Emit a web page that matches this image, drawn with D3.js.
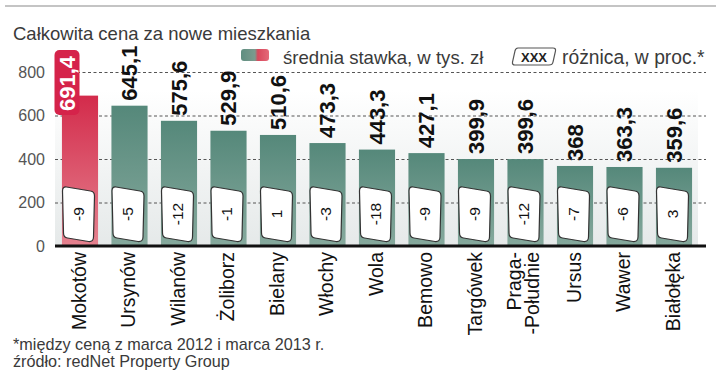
<!DOCTYPE html>
<html>
<head>
<meta charset="utf-8">
<script src="https://cdn.jsdelivr.net/npm/d3@7"></script>
<style>
  body { margin: 0; background: #fff; }
  svg { display: block; font-family: "Liberation Sans", Arial, sans-serif; }
</style>
</head>
<body>
<svg id="chart" width="720" height="375"></svg>
<script>
// dzielnice, srednia stawka (tys. zl), roznica (proc.)
var districts = ["Mokotów", "Ursynów", "Wilanów", "Żoliborz", "Bielany", "Włochy", "Wola",
  "Bemowo", "Targówek", "Praga-\n-Południe", "Ursus", "Wawer", "Białołęka"];
var prices = [691.4, 645.1, 575.6, 529.9, 510.6, 473.3, 443.3, 427.1, 399.9, 399.6, 368, 363.3, 359.6];
var changes = [-9, -5, -12, -1, 1, -3, -18, -9, -9, -12, -7, -6, 3];
var yTicks = [0, 200, 400, 600, 800];

var data = districts.map(function(d, i) {
  return {name: d, price: prices[i], change: changes[i]};
});

var fmt = function(v) { return String(v).replace(".", ","); };

var svg = d3.select("#chart");

var x = d3.scaleBand()
  .domain(districts)
  .range([55.25, 698.75])
  .paddingInner(0.27)
  .paddingOuter(0.135);

var y = d3.scaleLinear()
  .domain([0, 800])
  .range([246, 72]);

var defs = svg.append("defs");
function grad(id, c1, c2) {
  var g = defs.append("linearGradient").attr("id", id)
    .attr("x1", 0).attr("y1", 0).attr("x2", 0).attr("y2", 1);
  g.append("stop").attr("offset", "0%").attr("stop-color", c1);
  g.append("stop").attr("offset", "100%").attr("stop-color", c2);
}
grad("gGreen", "#55887a", "#86a99d");
grad("gRed", "#d32b4b", "#e5828f");
grad("gPanel", "#ffffff", "#e5e9e9");
var lg = defs.append("linearGradient").attr("id", "gLegend");
lg.append("stop").attr("offset", "0%").attr("stop-color", "#5f8e80");
lg.append("stop").attr("offset", "50%").attr("stop-color", "#7b9b8e");
lg.append("stop").attr("offset", "60%").attr("stop-color", "#d8485c");
lg.append("stop").attr("offset", "100%").attr("stop-color", "#e46a79");

// top rule
svg.append("line")
  .attr("x1", 5).attr("x2", 716).attr("y1", 6).attr("y2", 6)
  .attr("stroke", "#c4c4c4").attr("stroke-width", 2);

// title
svg.append("text")
  .attr("x", 13).attr("y", 40)
  .attr("font-size", 18.5).attr("fill", "#3a3a3a")
  .text("Całkowita cena za nowe mieszkania");

// panel
svg.append("rect")
  .attr("x", 55).attr("y", 90).attr("width", 643).attr("height", 156)
  .attr("fill", "url(#gPanel)");

// grid + y labels
var yAxis = svg.append("g")
  .attr("transform", "translate(55,0)")
  .call(d3.axisLeft(y).tickValues(yTicks).tickSize(-651).tickPadding(10));
yAxis.select(".domain").remove();
yAxis.selectAll(".tick line")
  .attr("stroke", "#555").attr("stroke-dasharray", "3,2.5")
  .attr("display", function(d) { return d === 0 ? "none" : null; });
yAxis.selectAll(".tick text")
  .attr("font-size", 16).attr("fill", "#555")
  .attr("font-family", "Liberation Sans, Arial, sans-serif");

// legend
svg.append("rect")
  .attr("x", 241).attr("y", 49).attr("width", 28).attr("height", 12).attr("rx", 3)
  .attr("fill", "url(#gLegend)");
svg.append("text")
  .attr("x", 283).attr("y", 64).attr("font-size", 18.6).attr("fill", "#3a3a3a")
  .text("średnia stawka, w tys. zł");
svg.append("path")
  .attr("d", "M518,48 L553,48 Q556,48 555.5,51 L553,62 Q552.5,65 549,65 L515,65 Q512,65 512.5,62 L515,51 Q515.5,48 518,48 Z")
  .attr("fill", "#fff").attr("stroke", "#555").attr("stroke-width", 1.2);
svg.append("text")
  .attr("x", 534).attr("y", 62).attr("text-anchor", "middle")
  .attr("font-size", 13).attr("font-weight", "bold").attr("fill", "#222")
  .text("XXX");
svg.append("text")
  .attr("x", 562).attr("y", 64).attr("font-size", 19.3).attr("fill", "#3a3a3a")
  .text("różnica, w proc.*");

// bars
svg.append("g").selectAll("rect")
  .data(data)
  .enter().append("rect")
  .attr("x", function(d) { return x(d.name); })
  .attr("y", function(d) { return y(d.price); })
  .attr("width", x.bandwidth())
  .attr("height", function(d) { return y(0) - y(d.price); })
  .attr("fill", function(d, i) { return i === 0 ? "url(#gRed)" : "url(#gGreen)"; });

// value labels
var vals = svg.append("g").selectAll("g")
  .data(data)
  .enter().append("g")
  .attr("transform", function(d, i) {
    var cx = x(d.name) + x.bandwidth() / 2;
    if (i === 0) return "translate(" + (cx - 13) + "," + 111 + ") rotate(-90)";
    return "translate(" + cx + "," + (y(d.price) - 5) + ") rotate(-90)";
  });
vals.filter(function(d, i) { return i === 0; })
  .append("rect")
  .attr("x", -4).attr("y", -12.5).attr("width", 65).attr("height", 25).attr("rx", 5)
  .attr("fill", "#d5234a");
vals.append("text")
  .attr("dy", "0.36em")
  .attr("font-size", 22).attr("font-weight", "bold")
  .attr("fill", function(d, i) { return i === 0 ? "#fff" : "#111"; })
  .text(function(d) { return fmt(d.price); });

// change boxes
var boxes = svg.append("g").selectAll("g")
  .data(data)
  .enter().append("g")
  .attr("transform", function(d) {
    return "translate(" + (x(d.name) + x.bandwidth() / 2 - 1.5) + ",214)";
  });
boxes.append("path")
  .attr("d", "M-12,-27 L12,-23 Q16,-22.5 16,-18 L15,23 Q15,28 10,27.5 L-11,24 Q-15,23.5 -15,19 L-16,-23 Q-16,-27.5 -12,-27 Z")
  .attr("fill", "#fff").attr("stroke", "#333").attr("stroke-width", 1.2);
boxes.append("text")
  .attr("transform", "rotate(-90)")
  .attr("text-anchor", "middle").attr("dy", "0.35em")
  .attr("font-size", 15.5).attr("fill", "#111")
  .text(function(d) { return d.change; });

// baseline
svg.append("line")
  .attr("x1", 55).attr("x2", 706).attr("y1", y(0)).attr("y2", y(0))
  .attr("stroke", "#111").attr("stroke-width", 3);

// category labels
var xl = svg.append("g").selectAll("text")
  .data(data)
  .enter().append("text")
  .attr("transform", function(d) {
    return "translate(" + (x(d.name) + x.bandwidth() / 2 - 1) + ",252) rotate(-90)";
  })
  .attr("text-anchor", "end")
  .attr("font-size", 19.5).attr("fill", "#111");
xl.each(function(d) {
  var lines = d.name.split("\n");
  var t = d3.select(this);
  lines.forEach(function(l, k) {
    t.append("tspan")
      .attr("x", 0)
      .attr("dy", lines.length === 1 ? "0.35em" : (k === 0 ? "-0.2em" : "0.95em"))
      .text(l);
  });
});

// footnotes
svg.append("text")
  .attr("x", 13).attr("y", 350).attr("font-size", 16.2).attr("fill", "#3a3a3a")
  .text("*między ceną z marca 2012 i marca 2013 r.");
svg.append("text")
  .attr("x", 13).attr("y", 367).attr("font-size", 16.2).attr("fill", "#3a3a3a")
  .text("źródło: redNet Property Group");
</script>
</body>
</html>
